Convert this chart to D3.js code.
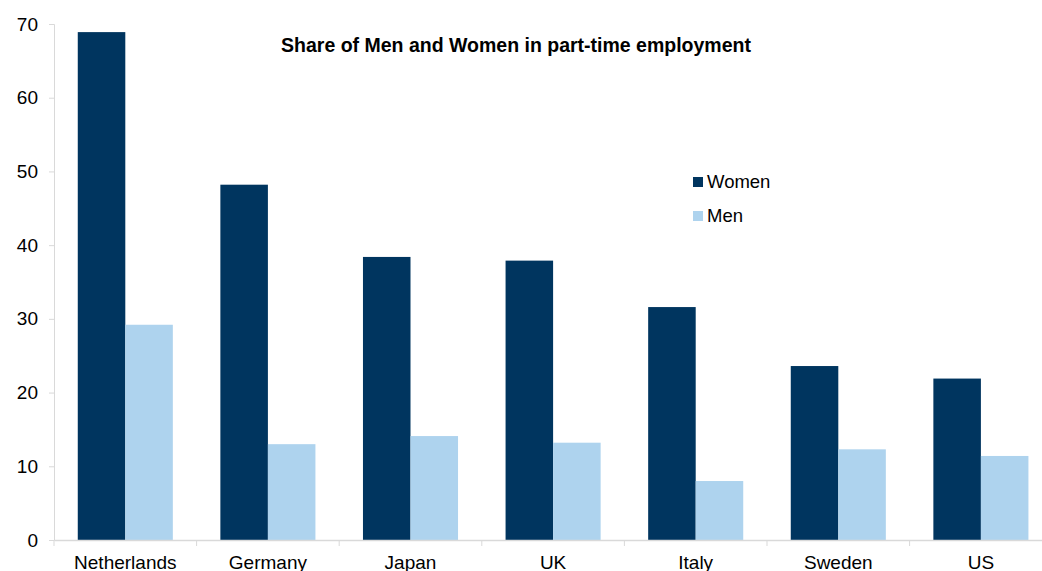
<!DOCTYPE html>
<html>
<head>
<meta charset="utf-8">
<script src="https://cdn.jsdelivr.net/npm/d3@7"></script>
<style>
  html, body { margin: 0; padding: 0; background: #fff; }
  svg { display: block; font-family: "Liberation Sans", Arial, sans-serif; }
</style>
</head>
<body>
<svg id="chart" width="1042" height="571"></svg>
<script>
// Part-time employment share (%) by country
const countries = ["Netherlands", "Germany", "Japan", "UK", "Italy", "Sweden", "US"];
const women = [68.9, 48.2, 38.4, 37.9, 31.6, 23.6, 21.9];
const men = [29.2, 13.0, 14.1, 13.2, 8.0, 12.3, 11.4];
const seriesNames = ["Women", "Men"];
const yTicks = [0, 10, 20, 30, 40, 50, 60, 70];

const colors = { Women: "#00355f", Men: "#aed3ee" };

const svg = d3.select("#chart");
const plotLeft = 54, plotTop = 24, plotBottom = 540, bandW = 142.6;
const fontFamily = "Liberation Sans, Arial, sans-serif";

const x = d3.scaleBand()
  .domain(countries)
  .range([plotLeft, plotLeft + bandW * countries.length])
  .paddingInner(0).paddingOuter(0);

const inner = d3.scaleBand()
  .domain(seriesNames)
  .range([0, x.bandwidth()])
  .paddingOuter(0.5).paddingInner(0);

const y = d3.scaleLinear().domain([0, 70]).range([plotBottom, plotTop]);

const rows = countries.map((c, i) => ({ country: c, Women: women[i], Men: men[i] }));

// bars
const groups = svg.append("g").selectAll("g")
  .data(rows).join("g")
  .attr("transform", d => `translate(${x(d.country)},0)`);

groups.selectAll("rect")
  .data(d => seriesNames.map(s => ({ s, v: d[s] })))
  .join("rect")
  .attr("x", d => inner(d.s))
  .attr("width", inner.bandwidth())
  .attr("y", d => y(d.v))
  .attr("height", d => y(0) - y(d.v))
  .attr("fill", d => colors[d.s]);

// y axis
const yAxis = svg.append("g")
  .attr("transform", `translate(${plotLeft},0)`)
  .call(d3.axisLeft(y).tickValues(yTicks).tickSize(5).tickPadding(11));
yAxis.select(".domain").attr("stroke", "#d9d9d9");
yAxis.selectAll(".tick line").attr("stroke", "#d9d9d9");
yAxis.selectAll(".tick text")
  .attr("fill", "#000").attr("font-size", 19)
  .attr("font-family", fontFamily);

// x axis
const xAxis = svg.append("g")
  .attr("transform", `translate(0,${plotBottom})`)
  .call(d3.axisBottom(x).tickSize(0).tickPadding(16));
xAxis.select(".domain").attr("stroke", "#d9d9d9").attr("stroke-width", 1.5);
xAxis.selectAll(".tick text")
  .attr("fill", "#000").attr("font-size", 19)
  .attr("font-family", fontFamily);

// category separators
svg.append("g").selectAll("line")
  .data(countries)
  .join("line")
  .attr("x1", d => x(d)).attr("x2", d => x(d))
  .attr("y1", plotBottom).attr("y2", plotBottom + 6)
  .attr("stroke", "#d9d9d9");

// title
svg.append("text")
  .attr("x", 516).attr("y", 52)
  .attr("text-anchor", "middle")
  .attr("font-size", 19.5).attr("font-weight", "bold")
  .text("Share of Men and Women in part-time employment");

// legend
const legend = svg.append("g").attr("transform", "translate(693,177)");
seriesNames.forEach((s, i) => {
  const g = legend.append("g").attr("transform", `translate(0,${i * 34})`);
  g.append("rect").attr("width", 10).attr("height", 10).attr("fill", colors[s]);
  g.append("text").attr("x", 14).attr("y", 11)
    .attr("font-size", 18.5).attr("fill", "#000").text(s);
});
</script>
</body>
</html>
